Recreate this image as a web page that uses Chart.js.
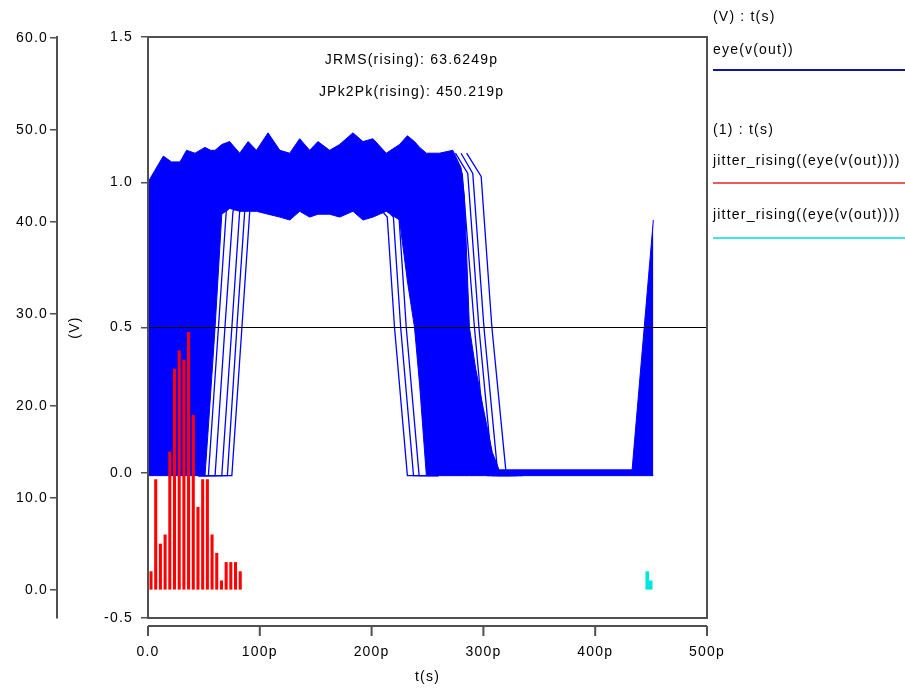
<!DOCTYPE html>
<html>
<head>
<meta charset="utf-8">
<script src="https://cdn.jsdelivr.net/npm/chart.js@4.4.1/dist/chart.umd.min.js"></script>
<style>
  body { margin: 0; background: #fff; }
  canvas { display: block; }
</style>
</head>
<body>
<canvas id="eyeChart" width="905" height="688"></canvas>
<script>
// eye envelope (t in ps, volts): top and bottom of the dense trace band
const T_EYE = [0, 6, 13.7, 21, 28.6, 34.5, 42, 51, 56, 60, 66, 73, 82, 89.6, 97, 107.4, 117.9, 126.8,
  135.7, 144.6, 152, 162.5, 171.4, 183.3, 192.3, 201.2, 213.1, 225, 232, 238.4, 243, 249, 260.7,
  272.6, 280, 283, 287.5, 293, 300, 308, 314, 433, 452];
const U_EYE = [1.0, 1.04, 1.09, 1.07, 1.07, 1.11, 1.10, 1.12, 1.11, 1.11, 1.13, 1.14, 1.10, 1.14, 1.11,
  1.17, 1.11, 1.10, 1.15, 1.11, 1.14, 1.11, 1.13, 1.17, 1.14, 1.15, 1.10, 1.13, 1.16, 1.14, 1.12,
  1.10, 1.10, 1.11, 1.05, 0.95, 0.5, 0.36, 0.22, 0.07, 0.01, 0.01, 0.87];
const B_EYE = [-0.01, -0.01, -0.01, -0.01, -0.01, -0.01, -0.01, -0.01, 0.27, 0.5, 0.89, 0.91, 0.9, 0.9,
  0.9, 0.89, 0.88, 0.87, 0.9, 0.88, 0.89, 0.89, 0.88, 0.9, 0.87, 0.88, 0.9, 0.87, 0.66, 0.5, 0.3,
  -0.01, -0.01, -0.01, -0.01, -0.01, -0.01, -0.01, -0.01, -0.01, -0.01, -0.01, -0.01];

// loose edge traces outside the dense band
const RISE_TRACES = [
  [[45, -0.01], [54, -0.01], [63, 0.5], [70, 0.9], [78, 0.95]],
  [[45, -0.01], [60, -0.01], [68.8, 0.5], [76, 0.9], [84, 0.95]],
  [[45, -0.01], [66, -0.01], [75, 0.5], [82, 0.9], [90, 0.95]],
  [[45, -0.01], [71, -0.01], [79.5, 0.5], [86.5, 0.9], [95, 0.95]],
  [[45, -0.01], [75, -0.01], [84, 0.5], [91, 0.9], [100, 0.95]],
];
const FALL_TRACES = [
  [[205, 0.92], [214, 0.88], [220.5, 0.5], [232, -0.01], [260, -0.01]],
  [[210, 0.92], [219.5, 0.88], [226, 0.5], [237.5, -0.01], [260, -0.01]],
  [[215, 0.92], [224.5, 0.88], [231, 0.5], [242.5, -0.01], [260, -0.01]],
  [[270, 1.1], [281, 1.03], [292, 0.5], [304, -0.01], [320, -0.01]],
  [[275, 1.1], [286, 1.03], [296, 0.5], [308.5, -0.01], [325, -0.01]],
  [[280, 1.1], [290.5, 1.03], [300.5, 0.5], [313, -0.01], [330, -0.01]],
  [[285, 1.1], [298, 1.02], [307.6, 0.5], [320.5, -0.01], [335, -0.01]],
];

const THRESH_T = [0, 500];
const THRESH_V = [0.5, 0.5];

// jitter histograms (counts)
const HIST_T = [2.7, 6.9, 11.1, 15.3, 19.5, 23.7, 27.9, 32.1, 36.3, 40.5, 44.7, 48.9, 53.1, 57.3,
  61.5, 65.7, 69.9, 74.1, 78.3, 82.5];
const HIST_N = [2, 12, 5, 6, 15, 24, 26, 25, 28, 19, 9, 12, 12, 6, 4, 1, 3, 3, 3, 2];
const HIST2_T = [446.6, 449.6];
const HIST2_N = [2, 1];

const X_TICKS = [0, 100, 200, 300, 400, 500];
const X_LABELS = ["0.0", "100p", "200p", "300p", "400p", "500p"];
const V_TICKS = [-0.5, 0, 0.5, 1, 1.5];
const COUNT_TICKS = [0, 10, 20, 30, 40, 50, 60];

const NOTES = ["JRMS(rising): 63.6249p", "JPk2Pk(rising): 450.219p"];
const NOTE_T = 235.7;
const NOTE_V = [1.42, 1.31];

const LEGEND_TEXT = ["(V) : t(s)", "eye(v(out))", "(1) : t(s)", "jitter_rising((eye(v(out))))", "jitter_rising((eye(v(out))))"];

const BLUE = "#0000ff";
const AXIS = "#505050";

function pts(xs, ys) {
  return xs.map((x, i) => ({ x: x, y: ys[i] }));
}

function tracePts(tr) {
  return tr.map((p) => ({ x: p[0], y: p[1] }));
}

const datasets = [
  {
    label: "eye upper",
    data: pts(T_EYE, U_EYE),
    borderColor: BLUE,
    backgroundColor: BLUE,
    borderWidth: 1,
    pointRadius: 0,
    fill: "+1",
    order: 4,
  },
  {
    label: "eye lower",
    data: pts(T_EYE, B_EYE),
    borderColor: BLUE,
    borderWidth: 1,
    pointRadius: 0,
    fill: false,
    order: 4,
  },
];

RISE_TRACES.concat(FALL_TRACES).forEach((tr) => {
  datasets.push({
    data: tracePts(tr),
    borderColor: BLUE,
    borderWidth: 1.3,
    pointRadius: 0,
    fill: false,
    order: 3,
  });
});

datasets.push({
  label: "threshold",
  data: pts(THRESH_T, THRESH_V),
  borderColor: "#000",
  borderWidth: 1.2,
  pointRadius: 0,
  fill: false,
  order: 2,
});

datasets.push({
  type: "bar",
  label: "jitter_rising",
  data: pts(HIST_T, HIST_N),
  yAxisID: "y1",
  backgroundColor: "#ff0000",
  barThickness: 2.4,
  grouped: false,
  order: 1,
});

datasets.push({
  type: "bar",
  label: "jitter_rising 2",
  data: pts(HIST2_T, HIST2_N),
  yAxisID: "y1",
  backgroundColor: "#00e6dc",
  barThickness: 3,
  grouped: false,
  order: 0,
});

const extras = {
  id: "extras",
  beforeDraw(chart) {
    chart.ctx.letterSpacing = "1.2px";
  },
  afterDraw(chart) {
    const { ctx, chartArea: a, scales } = chart;
    const x = scales.x;
    const y = scales.y;
    ctx.save();
    // plot frame
    ctx.strokeStyle = AXIS;
    ctx.lineWidth = 2;
    ctx.strokeRect(a.left, a.top, a.right - a.left, a.bottom - a.top);

    // detached time axis
    const yb = a.bottom + 8;
    ctx.beginPath();
    ctx.moveTo(x.getPixelForValue(X_TICKS[0]), yb);
    ctx.lineTo(x.getPixelForValue(X_TICKS[X_TICKS.length - 1]), yb);
    X_TICKS.forEach((t) => {
      const px = x.getPixelForValue(t);
      ctx.moveTo(px, yb);
      ctx.lineTo(px, yb + 10);
    });
    ctx.stroke();

    // jitter notes
    ctx.fillStyle = "#000";
    ctx.font = "14px 'Liberation Sans', Arial, sans-serif";
    ctx.textAlign = "center";
    ctx.textBaseline = "middle";
    NOTES.forEach((n, i) => {
      ctx.fillText(n, x.getPixelForValue(NOTE_T), y.getPixelForValue(NOTE_V[i]));
    });

    // legend
    const lx = a.right + 6;
    ctx.textAlign = "left";
    ctx.fillText(LEGEND_TEXT[0], lx, 17);
    ctx.fillText(LEGEND_TEXT[1], lx, 50);
    ctx.fillText(LEGEND_TEXT[2], lx, 130);
    ctx.fillText(LEGEND_TEXT[3], lx, 161);
    ctx.fillText(LEGEND_TEXT[4], lx, 215);
    const lines = [[70, "#1414a8"], [183, "#f05a5a"], [238, "#40e6e6"]];
    ctx.lineWidth = 2;
    lines.forEach((l) => {
      ctx.strokeStyle = l[1];
      ctx.beginPath();
      ctx.moveTo(lx, l[0]);
      ctx.lineTo(chart.width, l[0]);
      ctx.stroke();
    });
    ctx.restore();
  },
};

Chart.defaults.font.family = "'Liberation Sans', Arial, sans-serif";
Chart.defaults.font.size = 14;
Chart.defaults.color = "#000";

const ctx = document.getElementById("eyeChart").getContext("2d");

const eyeChart = new Chart(ctx, {
  type: "line",
  data: { datasets: datasets },
  options: {
    responsive: false,
    animation: false,
    events: [],
    layout: { padding: { left: 0, top: 37, right: 198, bottom: 0 } },
    plugins: {
      legend: { display: false },
      tooltip: { enabled: false },
    },
    scales: {
      x: {
        type: "linear",
        min: 0,
        max: 500,
        offset: false,
        afterFit: (s) => { s.height = 70; },
        afterBuildTicks: (s) => { s.ticks = X_TICKS.map((v) => ({ value: v })); },
        ticks: {
          padding: 26,
          maxRotation: 0,
          autoSkip: false,
          callback: (v, i) => X_LABELS[i],
        },
        grid: { display: false, drawTicks: false },
        border: { display: false },
        title: { display: true, text: "t(s)", padding: { top: 0, bottom: 2 } },
      },
      y: {
        type: "linear",
        position: "left",
        weight: 0,
        min: -0.5,
        max: 1.5,
        afterFit: (s) => { s.width = 91; },
        afterBuildTicks: (s) => { s.ticks = V_TICKS.map((v) => ({ value: v })); },
        ticks: { padding: 8, callback: (v) => v.toFixed(1) },
        grid: { drawOnChartArea: false, tickLength: 7, color: AXIS, lineWidth: 1.5 },
        border: { color: AXIS, width: 2 },
        title: { display: true, text: "(V)", padding: { top: 10, bottom: 0 } },
      },
      y1: {
        type: "linear",
        position: "left",
        weight: 1,
        min: -3.04,
        max: 60.1,
        afterFit: (s) => { s.width = 57; },
        afterBuildTicks: (s) => { s.ticks = COUNT_TICKS.map((v) => ({ value: v })); },
        ticks: { padding: 2, callback: (v) => v.toFixed(1) },
        grid: { drawOnChartArea: false, tickLength: 7, color: AXIS, lineWidth: 1.5 },
        border: { color: AXIS, width: 2 },
      },
    },
  },
  plugins: [extras],
});
</script>
</body>
</html>
